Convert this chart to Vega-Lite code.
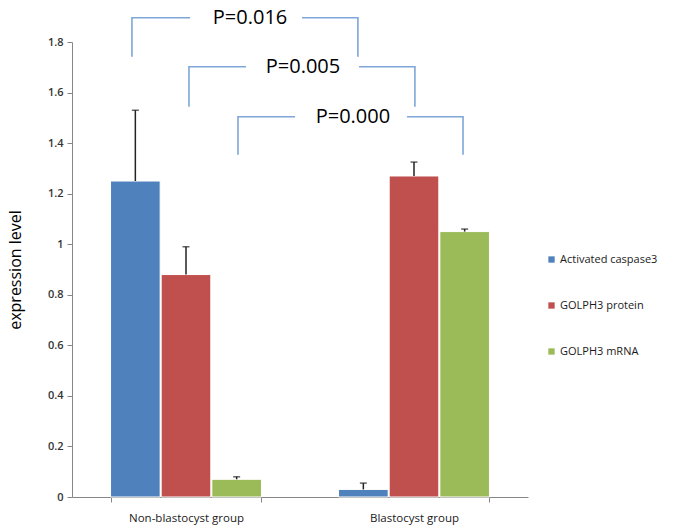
{
  "$schema": "https://vega.github.io/schema/vega-lite/v6.json",
  "width": 456,
  "height": 455,
  "autosize": {"type": "none"},
  "padding": {"left": 72, "top": 42, "right": 147, "bottom": 32},
  "background": "white",
  "config": {"view": {"stroke": null}, "font": "Open Sans"},
  "datasets": {
    "bars": [
      {"group": "Non-blastocyst group", "series": "Activated caspase3", "value": 1.25, "upper": 1.53},
      {"group": "Non-blastocyst group", "series": "GOLPH3 protein", "value": 0.88, "upper": 0.99},
      {"group": "Non-blastocyst group", "series": "GOLPH3 mRNA", "value": 0.07, "upper": 0.08},
      {"group": "Blastocyst group", "series": "Activated caspase3", "value": 0.03, "upper": 0.055},
      {"group": "Blastocyst group", "series": "GOLPH3 protein", "value": 1.27, "upper": 1.325},
      {"group": "Blastocyst group", "series": "GOLPH3 mRNA", "value": 1.05, "upper": 1.06}
    ],
    "brackets": [
      {"seg": "1L", "ord": 1, "bx": 0.263, "by": 1.742},
      {"seg": "1L", "ord": 2, "bx": 0.263, "by": 1.896},
      {"seg": "1L", "ord": 3, "bx": 0.518, "by": 1.896},
      {"seg": "1R", "ord": 1, "bx": 1.009, "by": 1.896},
      {"seg": "1R", "ord": 2, "bx": 1.254, "by": 1.896},
      {"seg": "1R", "ord": 3, "bx": 1.254, "by": 1.742},
      {"seg": "2L", "ord": 1, "bx": 0.513, "by": 1.544},
      {"seg": "2L", "ord": 2, "bx": 0.513, "by": 1.702},
      {"seg": "2L", "ord": 3, "bx": 0.763, "by": 1.702},
      {"seg": "2R", "ord": 1, "bx": 1.259, "by": 1.702},
      {"seg": "2R", "ord": 2, "bx": 1.504, "by": 1.702},
      {"seg": "2R", "ord": 3, "bx": 1.504, "by": 1.544},
      {"seg": "3L", "ord": 1, "bx": 0.728, "by": 1.354},
      {"seg": "3L", "ord": 2, "bx": 0.728, "by": 1.504},
      {"seg": "3L", "ord": 3, "bx": 0.978, "by": 1.504},
      {"seg": "3R", "ord": 1, "bx": 1.469, "by": 1.504},
      {"seg": "3R", "ord": 2, "bx": 1.715, "by": 1.504},
      {"seg": "3R", "ord": 3, "bx": 1.715, "by": 1.354}
    ],
    "labels": [
      {"text": "P=0.016", "tx": 0.781, "ty": 1.896},
      {"text": "P=0.005", "tx": 1.013, "ty": 1.702},
      {"text": "P=0.000", "tx": 1.232, "ty": 1.504}
    ]
  },
  "layer": [
    {
      "data": {"name": "bars"},
      "layer": [
        {
          "mark": {"type": "bar", "stroke": "white", "strokeWidth": 1},
          "encoding": {
            "x": {
              "field": "group", "type": "nominal", "sort": ["Non-blastocyst group", "Blastocyst group"],
              "scale": {"paddingInner": 0.338, "paddingOuter": 0.169},
              "axis": {"title": null, "labelAngle": 0, "tickBand": "extent", "domainColor": "#868686", "tickColor": "#868686", "tickSize": 5, "labelPadding": 10, "labelFontSize": 11.5, "labelColor": "#1a1a1a"}
            },
            "xOffset": {"field": "series", "type": "nominal", "sort": ["Activated caspase3", "GOLPH3 protein", "GOLPH3 mRNA"], "scale": {"paddingInner": 0.02}},
            "y": {
              "field": "value", "type": "quantitative",
              "scale": {"domain": [0, 1.8], "nice": false},
              "axis": {"title": "expression level", "values": [0, 0.2, 0.4, 0.6, 0.8, 1, 1.2, 1.4, 1.6, 1.8], "format": "~g", "grid": false, "domainColor": "#868686", "tickColor": "#868686", "tickSize": 5, "labelPadding": 4, "labelFontSize": 11, "labelFontWeight": 600, "labelColor": "#333333", "titleFontSize": 16, "titleFontWeight": "normal", "titleColor": "#000000", "titlePadding": 24}
            },
            "color": {
              "field": "series", "type": "nominal", "sort": ["Activated caspase3", "GOLPH3 protein", "GOLPH3 mRNA"],
              "scale": {"range": ["#4F81BD", "#C0504D", "#9BBB59"]},
              "legend": {"title": null, "orient": "none", "legendX": 474, "legendY": 212, "symbolType": "square", "symbolSize": 40, "symbolStrokeWidth": 0, "labelFontSize": 11, "labelColor": "#1a1a1a", "rowPadding": 34, "labelOffset": 3}
            }
          }
        },
        {
          "mark": {"type": "rule", "color": "#222222", "strokeWidth": 1.5},
          "encoding": {
            "x": {"field": "group", "type": "nominal", "sort": ["Non-blastocyst group", "Blastocyst group"]},
            "xOffset": {"field": "series", "type": "nominal", "sort": ["Activated caspase3", "GOLPH3 protein", "GOLPH3 mRNA"]},
            "y": {"field": "value", "type": "quantitative"},
            "y2": {"field": "upper"}
          }
        },
        {
          "mark": {"type": "tick", "color": "#222222", "thickness": 1.5, "size": 7},
          "encoding": {
            "x": {"field": "group", "type": "nominal", "sort": ["Non-blastocyst group", "Blastocyst group"]},
            "xOffset": {"field": "series", "type": "nominal", "sort": ["Activated caspase3", "GOLPH3 protein", "GOLPH3 mRNA"]},
            "y": {"field": "upper", "type": "quantitative"}
          }
        }
      ]
    },
    {
      "layer": [
        {
          "data": {"name": "brackets"},
          "mark": {"type": "line", "color": "#7EA6D8", "strokeWidth": 1.6, "clip": false},
          "encoding": {
            "x": {"field": "bx", "type": "quantitative", "scale": {"domain": [0, 2], "nice": false, "zero": false}, "axis": null},
            "y": {"field": "by", "type": "quantitative"},
            "detail": {"field": "seg"},
            "order": {"field": "ord"}
          }
        },
        {
          "data": {"name": "labels"},
          "mark": {"type": "text", "fontSize": 20, "color": "#000000", "baseline": "middle", "align": "center", "clip": false},
          "encoding": {
            "x": {"field": "tx", "type": "quantitative", "scale": {"domain": [0, 2], "nice": false, "zero": false}, "axis": null},
            "y": {"field": "ty", "type": "quantitative"},
            "text": {"field": "text"}
          }
        }
      ]
    }
  ],
  "resolve": {"scale": {"x": "independent"}}
}
